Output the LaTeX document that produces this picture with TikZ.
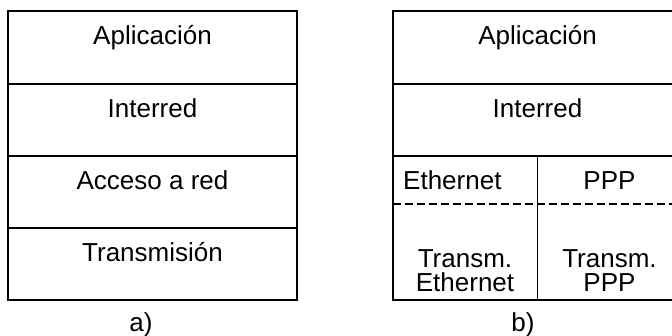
\documentclass[tikz,border=0pt]{standalone}
\usepackage{fontspec}
\setmainfont{Liberation Sans}
\begin{document}
\begin{tikzpicture}[x=1pt,y=-1pt,
  rule/.style={line width=1.6pt, black},
  split/.style={line width=1.4pt, black, dash pattern=on 8pt off 4pt},
  lbl/.style={inner sep=0pt, anchor=base, font=\fontsize{26}{30}\selectfont},
  pair/.style={inner sep=0pt, anchor=north, align=center, font=\fontsize{26}{24}\selectfont}]
\useasboundingbox (0,0) rectangle (672,336);

% a) four-layer stack
\draw[rule] (8,11) rectangle (297,300);
\draw[rule] (8,84) -- (297,84);
\draw[rule] (8,156) -- (297,156);
\draw[rule] (8,228) -- (297,228);
\node[lbl] (a1) at (152.5,45) {Aplicación};
\node[lbl] (a2) at (152.5,118) {Interred};
\node[lbl] (a3) at (152.5,190) {Acceso a red};
\node[lbl] (a4) at (152.5,262) {Transmisión};
\node[lbl] (capa) at (141,332) {a)};

% b) stack with two network technologies side by side
\draw[rule] (393,11) rectangle (682,300);
\draw[rule] (393,84) -- (682,84);
\draw[rule] (393,156) -- (682,156);
\draw[rule] (537.5,156) -- (537.5,300);
\draw[split] (393,204) -- (682,204);
\node[lbl] (b1) at (537.5,45) {Aplicación};
\node[lbl] (b2) at (537.5,118) {Interred};
\node[lbl, anchor=base west] (eth) at (403,190) {Ethernet};
\node[lbl] (ppp) at (609.5,190) {PPP};
\node[pair] (teth) at (465,249) {Transm.\\Ethernet};
\node[pair] (tppp) at (609.5,249) {Transm.\\PPP};
\node[lbl] (capb) at (523,332) {b)};
\end{tikzpicture}
\end{document}
